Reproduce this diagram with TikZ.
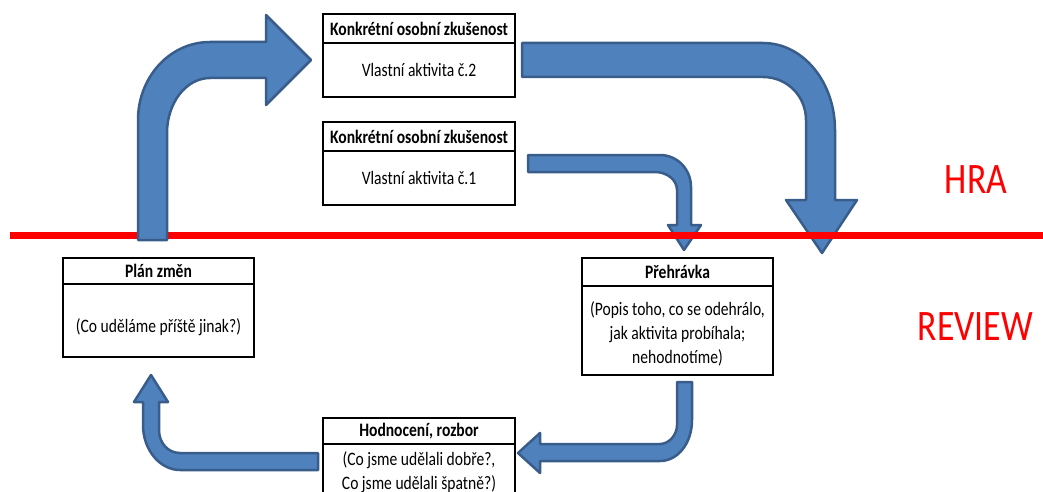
\documentclass[tikz,border=0pt]{standalone}
\usepackage{fontspec}
\setmainfont{Carlito}[FakeStretch=0.82]
\definecolor{arrfill}{HTML}{4F81BD}
\definecolor{arrline}{HTML}{385D8A}
\begin{document}
\begin{tikzpicture}[x=1pt,y=-1pt,
  boxpart/.style={draw=black, line width=2.5pt, minimum width=192pt, inner sep=0pt, fill=white},
  hd/.style={font=\fontsize{19}{23}\selectfont\bfseries},
  bd/.style={font=\fontsize{19}{24}\selectfont, align=center},
  blockarrow/.style={fill=arrfill, draw=arrline, line width=2.5pt, line join=round},
  lvl/.style={text=red, font=\fontsize{43.5}{50}\selectfont, inner sep=0pt}]
\useasboundingbox (0,0) rectangle (1043,492);
\clip (0,0) rectangle (1043,492);

% big arrow top right
\path[blockarrow] (522,43) -- (763,43) .. controls (803,43) and (835,82) .. (835,130)
  -- (835,200) -- (857,200) -- (822,253) -- (786,200) -- (806,200) -- (806,120)
  .. controls (806,96) and (787,77) .. (763,77) -- (522,77) -- cycle;
% small arrow from box 2
\path[blockarrow] (528,155) -- (660,155) .. controls (677,155) and (691,169) .. (691,187)
  -- (691,225) -- (701,225) -- (684,250) -- (668,225) -- (677,225) -- (677,190)
  .. controls (677,180) and (667,172) .. (655,172) -- (528,172) -- cycle;

% level line
\draw[red, line width=7pt] (10,235.5) -- (1043,235.5);

% arrow up-right to box 1
\path[blockarrow] (138,240) -- (138,120) .. controls (138,77) and (170,42) .. (210,42)
  -- (266,42) -- (266,15) -- (311,60) -- (266,105) -- (266,78) -- (210,78)
  .. controls (186,78) and (167,103) .. (167,133) -- (167,240) -- cycle;
% arrow from Prehravka to Hodnoceni
\path[blockarrow] (677,382) -- (692,382) -- (692,420) .. controls (692,443) and (678,461) .. (660,461)
  -- (540,461) -- (540,473) -- (518,453) -- (540,433) -- (540,444) -- (660,444)
  .. controls (669,444) and (677,435) .. (677,425) -- cycle;
% arrow from Hodnoceni to Plan
\path[blockarrow] (318,453) -- (318,470) -- (180,470) .. controls (160,470) and (143,450) .. (143,425)
  -- (143,402) -- (134,402) -- (151,375) -- (168,402) -- (159,402) -- (159,430)
  .. controls (159,443) and (168,453) .. (180,453) -- cycle;

% box 1
\node[boxpart, minimum height=29pt, hd] (b1h) at (419,28.5) {Konkrétní osobní zkušenost};
\node[boxpart, minimum height=54pt, bd] (b1b) at (419,70) {Vlastní aktivita č.2};
% box 2
\node[boxpart, minimum height=29pt, hd] (b2h) at (419,136.5) {Konkrétní osobní zkušenost};
\node[boxpart, minimum height=54pt, bd] (b2b) at (419,178) {Vlastní aktivita č.1};
% box 3
\node[boxpart, minimum width=191pt, minimum height=26pt, hd] (b3h) at (158.5,271) {Plán změn};
\node[boxpart, minimum width=191pt, minimum height=73pt] (b3b) at (158.5,320.5) {};
\node[bd] (b3t) at (158.5,327) {(Co uděláme příště jinak?)};
% box 4
\node[boxpart, minimum width=191pt, minimum height=28pt, hd] (b4h) at (677.5,272) {Přehrávka};
\node[boxpart, minimum width=191pt, minimum height=89pt] (b4b) at (677.5,330.5) {};
\node[bd] (b4t) at (677.5,334) {(Popis toho, co se odehrálo,\\jak aktivita probíhala;\\nehodnotíme)};
% box 5
\node[boxpart, minimum height=26pt, hd] (b5h) at (419,431) {Hodnocení, rozbor};
\node[boxpart, minimum height=58pt] (b5b) at (419,473) {};
\node[bd] (b5t) at (419,472.5) {(Co jsme udělali dobře?,\\Co jsme udělali špatně?)};

% level labels
\node[lvl] (hra) at (976,180) {HRA};
\node[lvl] (review) at (975.5,327) {REVIEW};
\end{tikzpicture}
\end{document}
